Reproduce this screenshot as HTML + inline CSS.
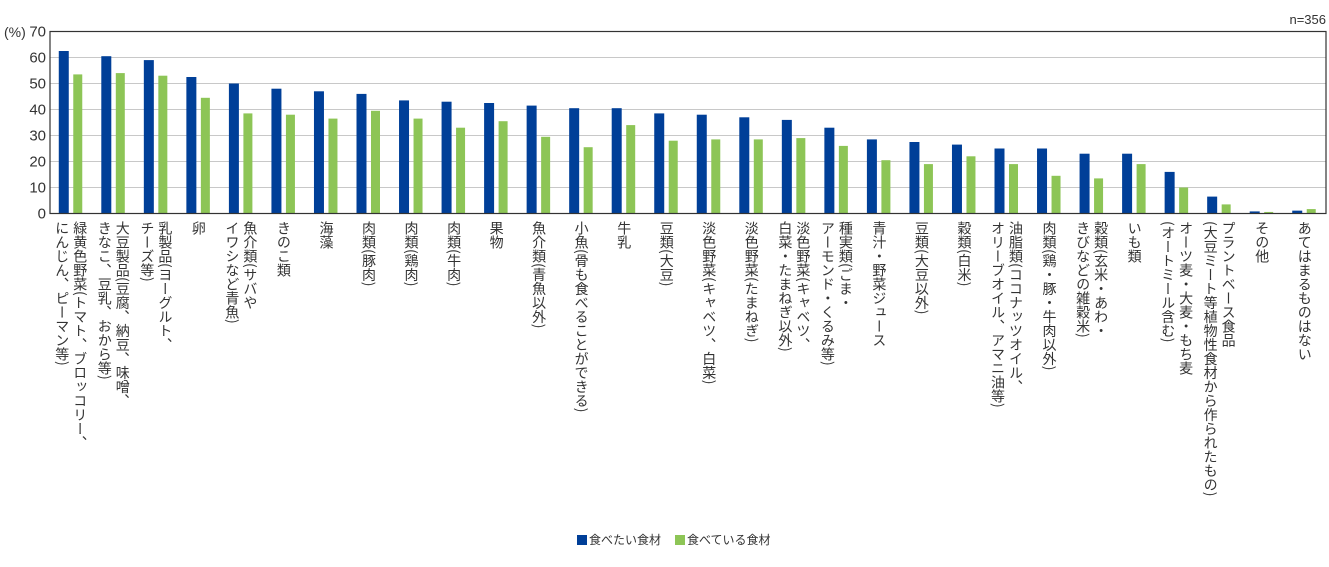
<!DOCTYPE html>
<html><head><meta charset="utf-8">
<style>
body{margin:0;background:#fff;width:1329px;height:567px;overflow:hidden;position:relative;font-family:"Liberation Sans","Noto Sans CJK JP",sans-serif;color:#333}
.lbl{position:absolute;top:221px;writing-mode:vertical-rl;font-size:14px;line-height:18px;transform:translateX(-50%);white-space:nowrap;font-family:"Noto Sans CJK JP",sans-serif;color:#333}
.legend{position:absolute;top:531px;left:577px;font-size:12px;display:flex;align-items:center;font-family:"Noto Sans CJK JP",sans-serif}
.sw{display:inline-block;width:10px;height:10px;margin-right:2px}
</style></head><body>
<svg id="chart" width="1329" height="567" style="position:absolute;left:0;top:0">
<g id="grid"></g><g id="bars"></g><g id="axis"></g>
<text x="1326" y="24" text-anchor="end" font-size="13" fill="#333" font-family="Liberation Sans, sans-serif">n=356</text>
<text x="4" y="37" font-size="14" fill="#333" font-family="Liberation Sans, sans-serif">(%)</text>
</svg>
<div class="legend">
<span style="display:flex;align-items:center;margin-right:14px"><span class="sw" style="background:#003f98"></span>食べたい食材</span>
<span style="display:flex;align-items:center"><span class="sw" style="background:#8dc556"></span>食べている食材</span>
</div>
<script>
const categories=["緑黄色野菜(トマト、ブロッコリー、\nにんじん、ピーマン等)","大豆製品(豆腐、納豆、味噌、\nきなこ、豆乳、おから等)","乳製品(ヨーグルト、\nチーズ等)","卵","魚介類(サバや\nイワシなど青魚)","きのこ類","海藻","肉類(豚肉)","肉類(鶏肉)","肉類(牛肉)","果物","魚介類(青魚以外)","小魚(骨も食べることができる)","牛乳","豆類(大豆)","淡色野菜(キャベツ、白菜)","淡色野菜(たまねぎ)","淡色野菜(キャベツ、\n白菜・たまねぎ以外)","種実類(ごま・\nアーモンド・くるみ等)","青汁・野菜ジュース","豆類(大豆以外)","穀類(白米)","油脂類(ココナッツオイル、\nオリーブオイル、アマニ油等)","肉類(鶏・豚・牛肉以外)","穀類(玄米・あわ・\nきびなどの雑穀米)","いも類","オーツ麦・大麦・もち麦\n(オートミール含む)","プラントベース食品\n(大豆ミート等植物性食材から作られたもの)","その他","あてはまるものはない"];
const wantValues=[62.5,60.5,59,52.5,50,48,47,46,43.5,43,42.5,41.5,40.5,40.5,38.5,38,37,36,33,28.5,27.5,26.5,25,25,23,23,16,6.5,0.8,1.1];
const eatingValues=[53.5,54,53,44.5,38.5,38,36.5,39.5,36.5,33,35.5,29.5,25.5,34,28,28.5,28.5,29,26,20.5,19,22,19,14.5,13.5,19,10,3.5,0.6,1.7];
const yTicks=[0,10,20,30,40,50,60,70];
const X0=50,X1=1326,Y0=213.5,Y1=31.5,YMAX=70;
const n=categories.length,step=(X1-X0)/n;
const y=v=>Y0-(v/YMAX)*(Y0-Y1);
const cx=i=>X0+step*(i+0.5);
const NS="http://www.w3.org/2000/svg";
const grid=document.getElementById('grid'),bars=document.getElementById('bars'),axis=document.getElementById('axis');
function mk(tag,attrs,parent){const e=document.createElementNS(NS,tag);for(const k in attrs)e.setAttribute(k,attrs[k]);parent.appendChild(e);return e;}
yTicks.forEach(t=>{
  if(t>0&&t<YMAX){const l=mk('line',{x1:X0,x2:X1,y1:y(t),y2:y(t),stroke:'#c8c8c8','stroke-width':1},grid);
  
  }
  const tx=mk('text',{x:46,y:y(t)+5,'text-anchor':'end','font-size':15,fill:'#333','font-family':'Liberation Sans, sans-serif'},axis);
  tx.textContent=t;
  
  
});
const box=mk('rect',{x:X0,y:Y1,width:X1-X0,height:Y0-Y1,fill:'none',stroke:'#333','stroke-width':1.2},axis);


categories.forEach((c,i)=>{
  const b=mk('rect',{x:cx(i)-12.5,y:y(wantValues[i]),width:10,height:Y0-y(wantValues[i]),fill:'#003f98'},bars);
  
  
  const g=mk('rect',{x:cx(i)+2,y:y(eatingValues[i]),width:9,height:Y0-y(eatingValues[i]),fill:'#8dc556'},bars);
  
  
  const d=document.createElement('div');
  d.className='lbl';
  d.style.left=cx(i)+'px';
  d.innerHTML=c.split('\n').join('<br>');
  
  
  document.body.appendChild(d);
});
</script>
</body></html>
